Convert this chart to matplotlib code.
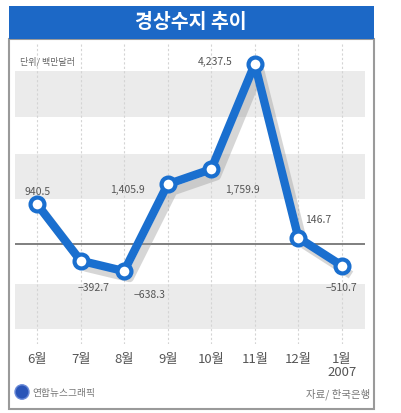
import matplotlib
matplotlib.use("Agg")
import matplotlib.pyplot as plt
import matplotlib.patheffects as pe
from matplotlib.patches import Rectangle, Circle

plt.rcParams['font.family'] = ['Noto Sans CJK KR', 'DejaVu Sans']

# data (백만달러)
months = ["6월", "7월", "8월", "9월", "10월", "11월", "12월", "1월\n2007"]
balance = [940.5, -392.7, -638.3, 1405.9, 1759.9, 4237.5, 146.7, -510.7]
labels = ["940.5", "−392.7", "−638.3", "1,405.9", "1,759.9", "4,237.5", "146.7", "−510.7"]
# label offsets in pixels from each point
offsets = [(1, 13), (13, -26), (25, -23), (-40, -5), (31, -20), (-40, 3), (20, 19), (0, -21)]
bands = [(3000, 4080), (1060, 2120), (-2000, -940)]

W, H = 402, 414
fig = plt.figure(figsize=(W / 100, H / 100), dpi=100)

def fx(x):
    return x / W

def fy(y):
    return 1 - y / H

blue = "#1a6fcf"

# frame and title bar
fig.patches.append(Rectangle((fx(9), fy(410)), fx(365), (410 - 40) / H, transform=fig.transFigure,
                             facecolor="white", edgecolor="#9a9a9a", lw=1.5, zorder=-2))
fig.patches.append(Rectangle((fx(9), fy(40)), fx(365), 33 / H, transform=fig.transFigure,
                             facecolor="#1c68c6", edgecolor="none", zorder=1))
fig.text(fx(191), fy(23), "경상수지 추이", color="white", fontsize=14, fontweight="bold",
         ha="center", va="center")

ax = fig.add_axes([fx(15), fy(345), 350 / W, 300 / H])
ax.set_zorder(2)
ax.set_facecolor("none")
ax.set_xlim(-0.505, 7.53)
ax.set_ylim(-2354, 4708)
for s in ax.spines.values():
    s.set_visible(False)

for lo, hi in bands:
    ax.axhspan(lo, hi, color="#ebebeb", lw=0, zorder=0)
for i in range(len(months)):
    ax.axvline(i, color="#d4d4d4", lw=0.8, ls=(0, (2, 2)), zorder=1)
ax.axhline(0, color="#6a6a6a", lw=1.2, zorder=2)

x = list(range(len(balance)))
line, = ax.plot(x, balance, color=blue, lw=6, solid_joinstyle="round", zorder=3)
line.set_path_effects([pe.SimpleLineShadow(offset=(4, -5), shadow_color="#9a9a9a", alpha=0.4),
                       pe.Normal()])
ax.plot(x, balance, "o", ms=10, mfc="white", mec=blue, mew=3, zorder=4)

for xi, v, t, (dx, dy) in zip(x, balance, labels, offsets):
    ax.annotate(t, (xi, v), xytext=(dx, dy), textcoords="offset pixels", ha="center",
                va="center", fontsize=7.5, color="#555555", zorder=5)

ax.set_xticks(x)
ax.set_xticklabels(months, fontsize=9.5, color="#555555", linespacing=0.95)
ax.tick_params(axis="x", length=0, pad=6)
ax.set_yticks([])

fig.text(fx(20), fy(62), "단위/ 백만달러", fontsize=6.5, color="#666666", ha="left", va="center")

fig.patches.append(Circle((fx(22), fy(393)), 7 / W, transform=fig.transFigure,
                          facecolor="#2a55b8", edgecolor="#6a8ad8", lw=1, zorder=3))
fig.text(fx(32), fy(393), "연합뉴스그래픽", fontsize=7, color="#777777", ha="left", va="center")
fig.text(fx(370), fy(394), "자료/ 한국은행", fontsize=7.5, color="#777777", ha="right", va="center")

fig.savefig("out.png", dpi=100)
